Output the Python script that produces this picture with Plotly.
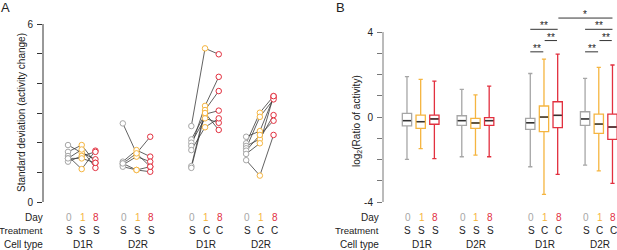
import plotly.graph_objects as go

# ---------------- DATA ----------------
days = ["0", "1", "8"]
day_colors = ["#a6a6a6", "#f5b540", "#e2303f"]
treatments = [["S", "S", "S"], ["S", "S", "S"], ["S", "C", "C"], ["S", "C", "C"]]
cell_types = ["D1R", "D2R", "D1R", "D2R"]

# Panel A: SD of activity change per cell (day0, day1, day8)
a_day0 = [
    [1.92, 1.69, 1.55, 1.47, 1.36, 1.47],
    [2.65, 1.36, 1.30, 1.25, 1.19, 1.30],
    [2.56, 2.11, 2.00, 1.89, 1.75, 1.21, 1.15],
    [2.20, 1.98, 1.89, 1.81, 1.73, 1.62, 1.41],
]
a_day1 = [
    [1.66, 1.92, 1.11, 1.77, 1.55, 1.47],
    [1.64, 1.75, 1.08, 1.53, 1.08, 1.64],
    [5.18, 2.96, 2.82, 3.24, 2.52, 3.10, 3.00],
    [2.39, 3.01, 2.12, 2.87, 2.26, 1.98, 0.89],
]
a_day8 = [
    [1.44, 1.32, 1.73, 1.15, 1.69, 1.32],
    [2.20, 1.53, 1.19, 1.36, 1.02, 1.19],
    [4.98, 3.08, 2.67, 4.22, 2.82, 3.74, 2.43],
    [3.52, 3.57, 2.93, 3.46, 2.74, 3.57, 2.26],
]

# Panel B: box statistics, per day colour, over the 4 groups
b_upper = [[1.90, 1.30, 2.05, 1.82], [1.77, 1.04, 2.73, 2.34], [1.69, 1.46, 2.96, 2.45]]
b_q3 = [[0.17, 0.06, -0.06, 0.25], [0.09, -0.06, 0.52, 0.14], [0.09, -0.03, 0.72, 0.14]]
b_median = [[-0.17, -0.17, -0.27, -0.09], [-0.22, -0.28, 0.00, -0.33], [-0.09, -0.17, 0.08, -0.47]]
b_q1 = [[-0.42, -0.39, -0.58, -0.39], [-0.53, -0.53, -0.69, -0.77], [-0.34, -0.39, -0.50, -1.05]]
b_lower = [[-1.99, -1.87, -2.34, -2.26], [-1.49, -1.79, -3.64, -2.53], [-1.96, -1.87, -2.70, -3.12]]

# significance: (group_a, day_a, group_b, day_b, label)
sig_tests = [
    (2, 0, 2, 1, "**"), (2, 1, 2, 2, "**"), (2, 0, 2, 2, "**"),
    (2, 2, 3, 2, "*"),
    (3, 0, 3, 1, "**"), (3, 1, 3, 2, "**"), (3, 0, 3, 2, "**"),
]
sig_levels = [0, 1, 2, 3, 0, 1, 2]  # stacking row of each bracket (layout)

# ---------------- LAYOUT HELPERS ----------------
group_start = [0, 4, 9, 13]


def pos(g, d):
    return group_start[g] + d


W, H = 617, 250
PLOT_BOTTOM = 202
FONT = "Arial, Liberation Sans, sans-serif"
TXT = "#222222"

fig = go.Figure()

# ---------------- PANEL A ----------------
lx, ly = [], []
for g in range(4):
    for c in range(len(a_day0[g])):
        lx += [pos(g, 0), pos(g, 1), pos(g, 2), None]
        ly += [a_day0[g][c], a_day1[g][c], a_day8[g][c], None]
fig.add_trace(go.Scatter(x=lx, y=ly, mode="lines", line=dict(color="#3a3a3a", width=0.8),
                         xaxis="x", yaxis="y", showlegend=False, hoverinfo="skip"))
for d, arr in enumerate([a_day0, a_day1, a_day8]):
    xs, ys = [], []
    for g in range(4):
        for v in arr[g]:
            xs.append(pos(g, d))
            ys.append(v)
    fig.add_trace(go.Scatter(x=xs, y=ys, mode="markers",
                             marker=dict(symbol="circle", size=5.5, color="white",
                                         line=dict(color=day_colors[d], width=1)),
                             xaxis="x", yaxis="y", showlegend=False))

# ---------------- PANEL B ----------------
BOXW = 0.68
shapes = []
for d in range(3):
    xs = [pos(g, d) for g in range(4)]
    fig.add_trace(go.Box(x=xs, q1=b_q1[d], median=b_median[d], q3=b_q3[d],
                         lowerfence=b_lower[d], upperfence=b_upper[d],
                         width=BOXW, whiskerwidth=0.45,
                         line=dict(color=day_colors[d], width=1.3),
                         fillcolor="rgba(255,255,255,0)",
                         xaxis="x2", yaxis="y2", showlegend=False, boxpoints=False))
    for g in range(4):
        shapes.append(dict(type="line", xref="x2", yref="y2",
                           x0=pos(g, d) - BOXW / 2 + 0.04, x1=pos(g, d) + BOXW / 2 - 0.04,
                           y0=b_median[d][g], y1=b_median[d][g],
                           line=dict(color="#333333", width=1.5)))

annotations = []
for (ga, da, gb, db, lab), lev in zip(sig_tests, sig_levels):
    x0 = pos(ga, da) + (0.05 if da > 0 else 0.0)
    x1 = pos(gb, db) - (0.05 if (db - da == 1 and ga == gb) else 0.0)
    y = 3.07 + 0.53 * lev
    shapes.append(dict(type="line", xref="x2", yref="y2", x0=x0, x1=x1, y0=y, y1=y,
                       line=dict(color="#333333", width=1)))
    xm = (pos(ga, da) + pos(gb, db)) / 2
    annotations.append(dict(x=xm, y=y, xref="x2", yref="y2", text=lab, showarrow=False,
                            yanchor="bottom", yshift=-4,
                            font=dict(family=FONT, size=10, color=TXT)))

# ---------------- AXES ----------------
def px_to_paper_x(p):
    return p / W


def px_to_paper_y(p):
    return (PLOT_BOTTOM - p) / PLOT_BOTTOM


axA_px, axB_px = 43, 383
shapes.append(dict(type="line", xref="paper", yref="y", x0=px_to_paper_x(axA_px), x1=px_to_paper_x(axA_px),
                   y0=0, y1=6, line=dict(color="#333333", width=1)))
shapes.append(dict(type="line", xref="paper", yref="y2", x0=px_to_paper_x(axB_px), x1=px_to_paper_x(axB_px),
                   y0=-4, y1=4, line=dict(color="#777777", width=1)))

fig.update_layout(
    width=W, height=H, margin=dict(l=0, r=0, t=0, b=H - PLOT_BOTTOM),
    paper_bgcolor="white", plot_bgcolor="white", boxmode="overlay",
    font=dict(family=FONT, size=10, color=TXT),
    xaxis=dict(domain=[px_to_paper_x(axA_px), px_to_paper_x(300)], range=[-1.825, 16.93],
               visible=False),
    yaxis=dict(range=[0, 6.81], tickvals=[0, 6], ticktext=["0", "6"], ticks="outside", ticklen=5,
               tickcolor="#333333", showline=False, showgrid=False, zeroline=False,
               anchor="x", ticklabelstandoff=2, tickfont=dict(size=10, color=TXT),
               minor=dict(tickvals=[1, 2, 3, 4, 5], ticks="outside", ticklen=5, tickcolor="#333333")),
    xaxis2=dict(domain=[px_to_paper_x(axB_px), 1], range=[-1.75, 15.33], visible=False),
    yaxis2=dict(range=[-4, 5.51], tickvals=[-4, 0, 4], ticktext=["-4", "0", "4"], ticks="outside", ticklen=5,
                tickcolor="#777777", showline=False, showgrid=False, zeroline=False,
                anchor="x2", ticklabelstandoff=2, tickfont=dict(size=10, color=TXT),
                minor=dict(tickvals=[-3, -2, -1, 1, 2, 3], ticks="outside", ticklen=5, tickcolor="#777777")),
    shapes=shapes,
)

# ---------------- TEXT ROWS ----------------
row_y = [217.7, 231, 244]
row_names = ["Day", "Treatment", "Cell type"]
for xa, label_px in [("x", 45), ("x2", 381)]:
    for name, ry in zip(row_names, row_y):
        annotations.append(dict(x=px_to_paper_x(label_px), y=px_to_paper_y(ry), xref="paper", yref="paper",
                                text=name, showarrow=False, xanchor="right", yanchor="middle",
                                font=dict(family=FONT, size=10 if name != "Treatment" else 9.6, color=TXT)))
    for g in range(4):
        for d in range(3):
            annotations.append(dict(x=pos(g, d), y=px_to_paper_y(row_y[0]), xref=xa, yref="paper",
                                    text=days[d], showarrow=False, yanchor="middle", xshift=1,
                                    font=dict(family=FONT, size=10, color=day_colors[d])))
            annotations.append(dict(x=pos(g, d), y=px_to_paper_y(row_y[1]), xref=xa, yref="paper",
                                    text=treatments[g][d], showarrow=False, yanchor="middle", xshift=1,
                                    font=dict(family=FONT, size=10, color=TXT)))
        annotations.append(dict(x=pos(g, 1), y=px_to_paper_y(row_y[2]), xref=xa, yref="paper",
                                text=cell_types[g], showarrow=False, yanchor="middle", xshift=1,
                                font=dict(family=FONT, size=10, color=TXT)))

annotations.append(dict(x=px_to_paper_x(21), y=px_to_paper_y(113), xref="paper", yref="paper",
                        text="Standard deviation (activity change)", textangle=-90, showarrow=False,
                        xanchor="center", yanchor="middle", font=dict(family=FONT, size=10, color=TXT)))
annotations.append(dict(x=px_to_paper_x(357), y=px_to_paper_y(121), xref="paper", yref="paper",
                        text="log<sub>2</sub>(Ratio of activity)", textangle=-90, showarrow=False,
                        xanchor="center", yanchor="middle", font=dict(family=FONT, size=10, color=TXT)))
annotations.append(dict(x=px_to_paper_x(5), y=px_to_paper_y(7), xref="paper", yref="paper", text="A",
                        showarrow=False, xanchor="center", yanchor="middle",
                        font=dict(family=FONT, size=13, color=TXT)))
annotations.append(dict(x=px_to_paper_x(340), y=px_to_paper_y(7), xref="paper", yref="paper", text="B",
                        showarrow=False, xanchor="center", yanchor="middle",
                        font=dict(family=FONT, size=13, color=TXT)))

fig.update_layout(annotations=annotations)
fig.write_html("out.html", config={"displayModeBar": False},
               post_script="document.body.style.margin='0';document.body.style.overflow='hidden';")
